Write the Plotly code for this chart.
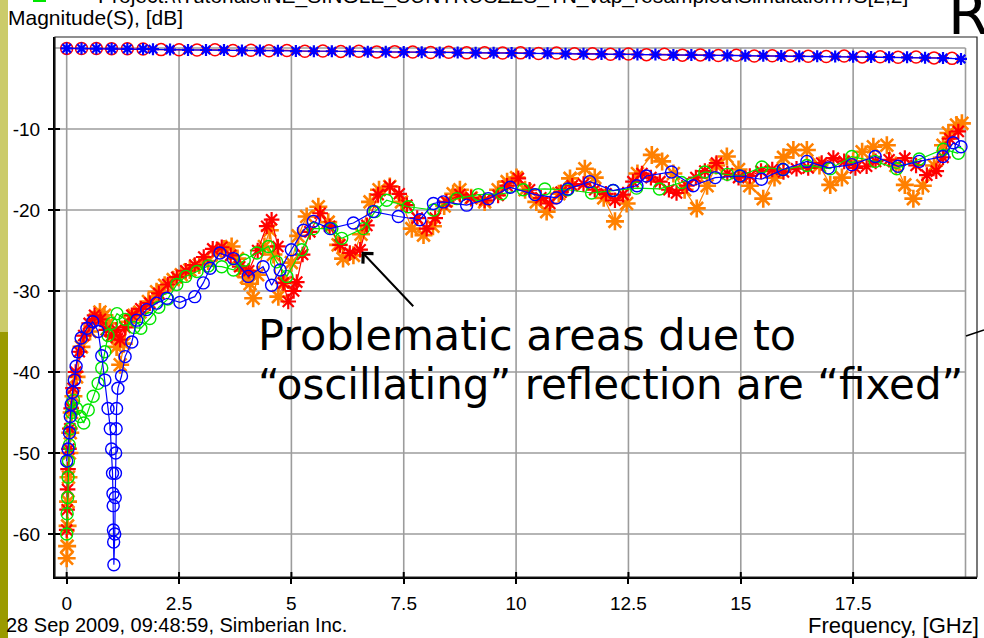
import plotly.graph_objects as go

# ---------------- data ----------------
# Transmission (near 0 dB): red circles and blue asterisks
s21a_f = [0, 0.33, 0.66, 1.0, 1.35, 1.7, 2.1, 2.5, 2.9, 3.3, 3.7, 4.1, 4.5, 4.9, 5.3, 5.7, 6.1, 6.5, 6.9,
          7.3, 7.7, 8.1, 8.5, 8.9, 9.3, 9.7, 10.1, 10.5, 10.9, 11.3, 11.7, 12.1, 12.5, 12.9, 13.3, 13.7,
          14.1, 14.5, 14.9, 15.3, 15.7, 16.1, 16.5, 16.9, 17.3, 17.7, 18.1, 18.5, 18.9, 19.3, 19.7]
s21a_db = [-0.05, -0.06, -0.07, -0.08, -0.1, -0.12, -0.2, -0.22, -0.25, -0.22, -0.3, -0.28, -0.35, -0.3,
           -0.4, -0.38, -0.42, -0.4, -0.48, -0.45, -0.5, -0.55, -0.52, -0.6, -0.58, -0.62, -0.6, -0.68,
           -0.62, -0.72, -0.7, -0.78, -0.75, -0.82, -0.78, -0.88, -0.85, -0.92, -0.9, -0.98, -0.95, -1.0,
           -1.02, -1.05, -1.0, -1.1, -1.08, -1.15, -1.12, -1.22, -1.28]

s21b_f = [0, 0.33, 0.66, 1.0, 1.35, 1.7, 1.92, 2.3, 2.7, 3.1, 3.5, 3.9, 4.3, 4.7, 5.1, 5.5, 5.9, 6.3, 6.7,
          7.1, 7.5, 7.9, 8.3, 8.7, 9.1, 9.5, 9.9, 10.3, 10.7, 11.1, 11.5, 11.9, 12.3, 12.7, 13.1, 13.5,
          13.9, 14.3, 14.7, 15.1, 15.5, 15.9, 16.3, 16.7, 17.1, 17.5, 17.9, 18.3, 18.7, 19.1, 19.5, 19.9]
s21b_db = [-0.05, -0.06, -0.07, -0.08, -0.1, -0.12, -0.15, -0.2, -0.24, -0.25, -0.26, -0.3, -0.32, -0.33,
           -0.38, -0.4, -0.4, -0.43, -0.45, -0.47, -0.5, -0.52, -0.55, -0.57, -0.58, -0.6, -0.62, -0.65,
           -0.66, -0.7, -0.72, -0.75, -0.77, -0.8, -0.8, -0.85, -0.86, -0.9, -0.92, -0.95, -0.96, -1.0,
           -1.02, -1.03, -1.05, -1.08, -1.1, -1.13, -1.15, -1.2, -1.25, -1.35]

# Reflection, blue circles
refl_blue_f = [0.0, 0.03, 0.06, 0.08, 0.10, 0.13, 0.17, 0.21, 0.25, 0.32, 0.45, 0.58, 0.70, 0.78, 0.85,
               0.92, 0.97, 1.00, 1.02, 1.03, 1.035, 1.04, 1.045, 1.05, 1.07, 1.08, 1.085, 1.09, 1.10,
               1.11, 1.14, 1.22, 1.30, 1.45, 1.56, 1.78, 2.00, 2.23, 2.52, 2.85, 3.04, 3.19, 3.41, 3.71,
               4.04, 4.37, 4.56, 4.75, 5.00, 5.27, 5.49, 5.86, 6.38, 6.82, 7.38, 7.86, 8.16, 8.38, 8.90,
               9.38, 9.87, 10.42, 10.90, 11.15, 11.64, 12.16, 12.69, 12.90, 13.46, 13.94, 14.43, 14.98,
               15.46, 15.94, 16.47, 16.95, 17.47, 17.99, 18.50, 18.97, 19.50, 19.73, 19.90]
refl_blue_db = [-51.0, -49.5, -47.5, -45.5, -44.0, -42.5, -41.0, -39.3, -37.5, -35.8, -34.6, -33.8, -35.0,
                -38.0, -41.0, -44.5, -47.0, -49.5, -52.5, -55.0, -56.5, -59.5, -61.0, -63.8, -60.0, -55.5,
                -52.5, -50.0, -47.0, -44.5, -42.0, -40.5, -38.1, -36.3, -33.6, -32.3, -31.5, -30.9, -31.4,
                -30.7, -29.0, -27.2, -25.3, -26.0, -28.2, -27.0, -29.3, -27.4, -24.9, -22.5, -21.4, -22.3,
                -21.6, -20.2, -20.8, -21.2, -19.2, -19.0, -19.4, -18.6, -17.2, -18.1, -18.5, -17.4, -16.5,
                -17.6, -17.0, -15.8, -15.3, -17.0, -16.0, -15.8, -16.2, -15.0, -14.0, -14.8, -14.4, -13.4,
                -14.6, -14.0, -13.4, -11.7, -12.2]

# Reflection, green circles
refl_green_f = [0.0, 0.01, 0.02, 0.03, 0.04, 0.06, 0.08, 0.11, 0.15, 0.22, 0.30, 0.38, 0.48, 0.59, 0.70,
                0.78, 0.85, 0.92, 1.00, 1.12, 1.30, 1.50, 1.65, 1.85, 2.05, 2.25, 2.45, 2.65, 2.90, 3.15,
                3.45, 3.71, 3.95, 4.23, 4.49, 4.67, 4.90, 5.23, 5.49, 5.90, 6.12, 6.60, 6.86, 7.12, 7.60,
                8.16, 8.68, 9.16, 9.68, 10.16, 10.64, 11.15, 11.68, 12.16, 12.68, 13.19, 13.68, 14.20,
                14.70, 14.98, 15.47, 15.94, 16.47, 16.99, 17.47, 17.99, 18.47, 18.97, 19.51, 19.84]
refl_green_db = [-60.0, -57.5, -55.5, -53.0, -51.0, -49.0, -47.0, -45.0, -43.5, -44.5, -45.5, -46.3, -44.7,
                 -43.0, -41.4, -39.5, -37.5, -35.5, -34.0, -32.8, -33.5, -34.5, -34.6, -33.4, -32.0, -31.0,
                 -29.2, -28.2, -27.6, -26.9, -27.0, -27.4, -26.2, -25.3, -24.5, -26.4, -28.2, -24.9, -22.3,
                 -22.3, -23.5, -22.3, -20.2, -18.8, -19.6, -20.0, -18.6, -18.1, -18.0, -17.5, -17.4, -17.5,
                 -17.9, -17.6, -17.3, -17.4, -16.6, -15.3, -15.6, -15.8, -14.7, -15.0, -14.5, -14.9, -13.4,
                 -14.0, -14.9, -13.7, -12.5, -13.0]

# Reflection, red asterisks
refl_red_f = [0.0, 0.01, 0.02, 0.03, 0.05, 0.07, 0.10, 0.14, 0.20, 0.28, 0.38, 0.50, 0.62, 0.75, 0.88,
              1.00, 1.11, 1.19, 1.30, 1.45, 1.65, 1.85, 2.05, 2.25, 2.45, 2.65, 2.85, 3.05, 3.25, 3.45,
              3.65, 3.85, 4.05, 4.25, 4.45, 4.56, 4.70, 4.82, 4.93, 5.05, 5.12, 5.25, 5.41, 5.64, 5.85,
              6.08, 6.30, 6.53, 6.68, 6.93, 7.19, 7.40, 7.57, 7.80, 8.01, 8.20, 8.45, 8.75, 9.00, 9.30,
              9.60, 9.80, 10.05, 10.30, 10.55, 10.75, 11.00, 11.25, 11.50, 11.75, 12.00, 12.20, 12.38,
              12.60, 12.80, 13.00, 13.20, 13.40, 13.57, 13.80, 14.00, 14.20, 14.46, 14.70, 14.95, 15.20,
              15.45, 15.70, 15.95, 16.24, 16.50, 16.80, 17.06, 17.30, 17.55, 17.80, 18.00, 18.30, 18.65,
              18.90, 19.14, 19.35, 19.50, 19.65, 19.84]
refl_red_db = [-59.5, -57.0, -54.5, -52.0, -49.5, -47.0, -44.5, -42.0, -40.0, -37.5, -35.5, -34.0, -33.0,
               -33.5, -34.8, -35.5, -34.8, -36.0, -34.5, -33.0, -32.2, -31.5, -30.3, -29.2, -28.3, -27.5,
               -26.8, -25.8, -24.8, -24.6, -25.6, -27.0, -27.5, -25.0, -22.0, -21.2, -24.5, -29.0, -31.3,
               -30.0, -28.9, -25.5, -22.7, -20.4, -22.0, -24.3, -25.3, -24.9, -21.9, -18.1, -17.1, -18.0,
               -19.4, -21.0, -22.3, -21.0, -19.0, -18.1, -18.5, -18.8, -18.2, -17.0, -16.1, -17.5, -18.5,
               -19.2, -17.8, -17.0, -16.8, -17.5, -18.0, -18.8, -18.1, -16.5, -15.5, -16.0, -16.5, -17.5,
               -17.9, -17.0, -16.0, -15.2, -14.2, -15.5, -16.0, -15.8, -15.2, -15.0, -15.3, -14.9, -14.8,
               -14.2, -13.6, -14.0, -14.8, -14.6, -14.0, -13.8, -13.6, -14.5, -15.7, -15.2, -13.5, -11.2,
               -10.3]

# Reflection, orange asterisks
refl_orange_f = [0.0, 0.01, 0.02, 0.03, 0.04, 0.06, 0.08, 0.11, 0.15, 0.22, 0.33, 0.52, 0.64, 0.74, 0.84,
                 0.93, 1.02, 1.11, 1.19, 1.27, 1.37, 1.50, 1.63, 1.82, 2.00, 2.18, 2.37, 2.55, 2.74, 2.95,
                 3.15, 3.34, 3.50, 3.67, 3.80, 3.92, 4.00, 4.08, 4.15, 4.25, 4.40, 4.52, 4.60, 4.71, 4.85,
                 5.00, 5.15, 5.34, 5.60, 5.82, 6.04, 6.15, 6.38, 6.55, 6.75, 6.95, 7.19, 7.45, 7.68, 7.94,
                 8.15, 8.40, 8.60, 8.75, 9.00, 9.30, 9.60, 9.80, 10.01, 10.20, 10.45, 10.68, 10.95, 11.20,
                 11.53, 11.75, 11.95, 12.20, 12.46, 12.70, 13.02, 13.25, 13.50, 13.75, 14.02, 14.25, 14.45,
                 14.69, 14.95, 15.20, 15.50, 15.75, 15.95, 16.17, 16.47, 16.75, 16.99, 17.25, 17.50, 17.70,
                 17.95, 18.25, 18.45, 18.65, 18.84, 19.05, 19.30, 19.50, 19.62, 19.80, 19.92]
refl_orange_db = [-63.0, -61.5, -59.0, -56.0, -53.0, -50.0, -47.5, -45.0, -43.0, -40.6, -36.9, -35.0, -33.5,
                  -32.6, -33.0, -34.0, -35.5, -36.9, -39.1, -36.5, -33.8, -33.0, -32.6, -31.3, -30.1, -29.3,
                  -28.6, -28.0, -27.4, -26.8, -26.3, -25.2, -24.8, -24.5, -26.0, -27.5, -28.3, -29.1, -30.9,
                  -28.0, -24.5, -22.5, -25.5, -30.7, -29.0, -26.5, -23.2, -20.8, -19.6, -21.5, -24.3, -26.0,
                  -25.6, -23.0, -19.0, -17.5, -17.1, -19.0, -22.3, -23.1, -22.0, -19.5, -18.0, -17.5, -18.5,
                  -19.0, -17.5, -16.5, -16.0, -17.5, -19.0, -20.2, -18.0, -16.1, -14.9, -16.0, -18.5, -21.4,
                  -19.2, -15.5, -13.2, -14.0, -15.5, -17.5, -19.8, -17.0, -14.5, -13.4, -15.0, -17.0, -18.6,
                  -16.0, -13.5, -12.6, -12.6, -14.5, -16.9, -16.0, -14.0, -12.8, -12.2, -12.0, -14.5, -16.9,
                  -18.6, -17.0, -14.5, -12.0, -10.5, -9.5, -9.3]

x_ticks = [0, 2.5, 5, 7.5, 10, 12.5, 15, 17.5]
x_tick_text = ["0", "2.5", "5", "7.5", "10", "12.5", "15", "17.5"]
y_ticks = [-10, -20, -30, -40, -50, -60]
y_tick_text = ["-10", "-20", "-30", "-40", "-50", "-60"]
x_grid = [0, 2.5, 5, 7.5, 10, 12.5, 15, 17.5, 20]
y_grid = [0, -10, -20, -30, -40, -50, -60]

# ---------------- geometry ----------------
W, H = 984, 638
PL, PR, PT, PB = 55, 977, 37, 577          # plot frame in page pixels
X_RANGE = [-0.26, 20.256]
Y_RANGE = [-65.31, 1.358]


def px_x(px):
    return (px - PL) / (PR - PL)


def px_y(py):
    return (PB - py) / (PB - PT)


BLUE, RED, GREEN, ORANGE = "#0000ff", "#ff0000", "#00e600", "#ff8000"
GRID = "#9c9c9c"
TICK_FONT = dict(family="Liberation Sans, Arial, sans-serif", size=19, color="#000000")

fig = go.Figure()


def add_series(f, db, color, symbol, size, lw):
    fig.add_trace(go.Scatter(
        x=f, y=db, mode="lines+markers",
        line=dict(color=color, width=1.2),
        marker=dict(symbol=symbol, size=size, color=color,
                    line=dict(color=color, width=lw)),
        showlegend=False, hoverinfo="skip",
    ))


add_series(refl_orange_f, refl_orange_db, ORANGE, "asterisk-open", 15, 2.6)
add_series(refl_red_f, refl_red_db, RED, "asterisk-open", 13, 2.2)
add_series(refl_green_f, refl_green_db, GREEN, "circle-open", 12, 1.4)
add_series(refl_blue_f, refl_blue_db, BLUE, "circle-open", 12, 1.4)
add_series(s21a_f, s21a_db, RED, "circle-open", 12, 1.5)
add_series(s21b_f, s21b_db, BLUE, "asterisk-open", 10, 2.2)

shapes = []
# grid
for gx in x_grid:
    shapes.append(dict(type="line", xref="x", yref="y", x0=gx, x1=gx, y0=Y_RANGE[0], y1=0,
                       line=dict(color=GRID, width=1.6), layer="below"))
for gy in y_grid:
    shapes.append(dict(type="line", xref="x", yref="y", x0=X_RANGE[0], x1=20, y0=gy, y1=gy,
                       line=dict(color=GRID, width=1.6), layer="below"))
# thin outer frame (top / right)
shapes.append(dict(type="rect", xref="paper", yref="paper", x0=0, x1=1, y0=0, y1=1,
                   line=dict(color="#202020", width=1.2), layer="above"))
# inner halves of the crossing tick marks
for tx in x_ticks:
    shapes.append(dict(type="line", xref="x", yref="paper", x0=tx, x1=tx, y0=0, y1=5 / (PB - PT),
                       line=dict(color="#000000", width=2)))
for ty in y_ticks:
    shapes.append(dict(type="line", xref="paper", yref="y", x0=0, x1=5 / (PR - PL), y0=ty, y1=ty,
                       line=dict(color="#000000", width=2)))
# slide decorations: olive side strip and callout stroke
shapes.append(dict(type="rect", xref="paper", yref="paper", x0=px_x(0), x1=px_x(8),
                   y0=px_y(0), y1=px_y(332), fillcolor="#cbcb6a", line=dict(width=0)))
shapes.append(dict(type="rect", xref="paper", yref="paper", x0=px_x(0), x1=px_x(8),
                   y0=px_y(332), y1=px_y(H), fillcolor="#9a9a00", line=dict(width=0)))
shapes.append(dict(type="line", xref="paper", yref="paper", x0=px_x(966), x1=px_x(984),
                   y0=px_y(336), y1=px_y(330), line=dict(color="#000000", width=1.6)))
# legend stub of the header line
shapes.append(dict(type="line", xref="paper", yref="paper", x0=px_x(33), x1=px_x(46),
                   y0=px_y(1), y1=px_y(1), line=dict(color=GREEN, width=2)))

annotations = [
    dict(text="Project:\\\\Tutorials\\NE_SINGLE_SUNTRUSZZS_TN_vap_resampled\\Simulation7/S[2,2] ┘",
         xref="paper", yref="paper", x=px_x(96), y=px_y(-4), xanchor="left", yanchor="middle",
         showarrow=False, font=dict(family="Liberation Sans, Arial", size=21, color="#000000")),
    dict(text="Magnitude(S), [dB]", xref="paper", yref="paper", x=px_x(6), y=px_y(17),
         xanchor="left", yanchor="middle", showarrow=False,
         font=dict(family="Liberation Sans, Arial", size=21, color="#000000")),
    dict(text="28 Sep 2009, 09:48:59, Simberian Inc.", xref="paper", yref="paper",
         x=px_x(4), y=px_y(625), xanchor="left", yanchor="middle", showarrow=False,
         font=dict(family="Liberation Sans, Arial", size=20, color="#000000")),
    dict(text="Frequency, [GHz]", xref="paper", yref="paper", x=px_x(981), y=px_y(625),
         xanchor="right", yanchor="middle", showarrow=False,
         font=dict(family="Liberation Sans, Arial", size=22, color="#000000")),
    dict(text="R", xref="paper", yref="paper", x=px_x(946), y=px_y(14),
         xanchor="left", yanchor="middle", showarrow=False,
         font=dict(family="DejaVu Sans", size=58, color="#000000")),
    dict(text="Problematic areas due to", xref="paper", yref="paper", x=px_x(256), y=px_y(335),
         xanchor="left", yanchor="middle", showarrow=False,
         font=dict(family="DejaVu Sans", size=43, color="#000000")),
    dict(text="“oscillating” reflection are “fixed”", xref="paper", yref="paper",
         x=px_x(256), y=px_y(385), xanchor="left", yanchor="middle", showarrow=False,
         font=dict(family="DejaVu Sans", size=42, color="#000000")),
    dict(text="", xref="x", yref="y", x=6.564, y=-25.15, ax=53, ay=56,
         showarrow=True, arrowhead=4, arrowsize=1.4, arrowwidth=2, arrowcolor="#000000",
         standoff=0),
]

fig.update_layout(
    width=W, height=H, autosize=False,
    margin=dict(l=PL, r=W - PR, t=PT, b=H - PB, pad=0),
    paper_bgcolor="#ffffff", plot_bgcolor="#ffffff",
    shapes=shapes, annotations=annotations, showlegend=False,
    xaxis=dict(range=X_RANGE, showgrid=False, zeroline=False, showline=True, linecolor="#000000",
               linewidth=2, ticks="outside", ticklen=5, tickwidth=2, tickcolor="#000000",
               tickvals=x_ticks, ticktext=x_tick_text, tickfont=TICK_FONT, ticklabelstandoff=3),
    yaxis=dict(range=Y_RANGE, showgrid=False, zeroline=False, showline=True, linecolor="#000000",
               linewidth=2, ticks="outside", ticklen=5, tickwidth=2, tickcolor="#000000",
               tickvals=y_ticks, ticktext=y_tick_text, tickfont=TICK_FONT, ticklabelstandoff=4),
)

fig.write_html("out.html")
